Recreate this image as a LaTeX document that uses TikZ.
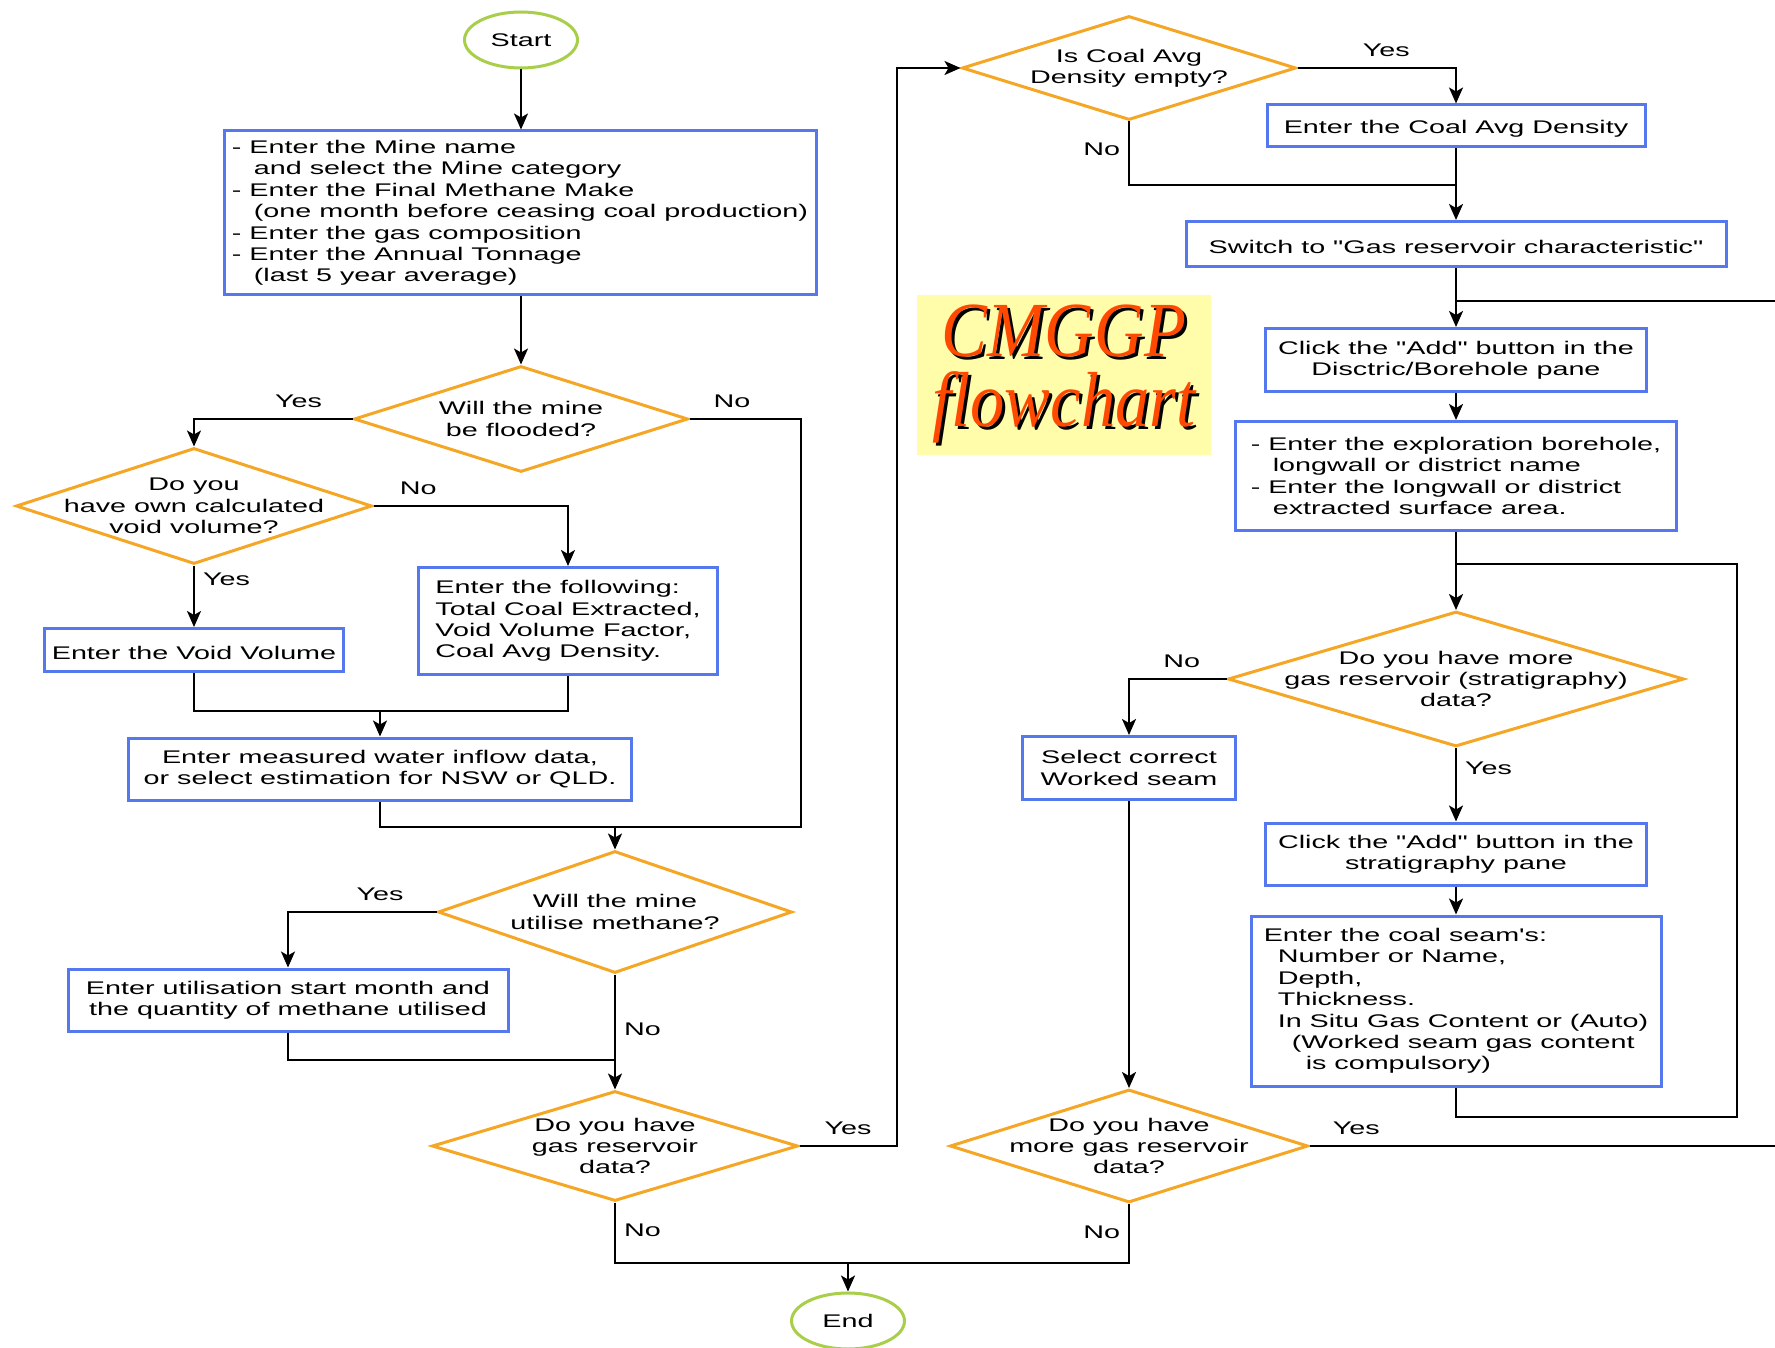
\documentclass[tikz,border=0pt]{standalone}
\usepackage{fontspec}
\setmainfont{Liberation Sans}[FakeStretch=1.57, Ligatures=TeXOff]
\newfontfamily\titlefont{Liberation Serif}[FakeStretch=0.88]
\usetikzlibrary{arrows.meta, positioning, shapes.geometric}
\usepackage{xcolor}

\definecolor{boxblue}{RGB}{85,120,238}
\definecolor{decorange}{RGB}{244,166,36}
\definecolor{termgreen}{RGB}{168,206,74}
\definecolor{titlefill}{RGB}{255,252,170}
\definecolor{titlered}{RGB}{255,72,0}

\newcommand{\shadowed}[1]{\leavevmode\rlap{\kern3pt\raisebox{-3pt}{\color{black}#1}}#1}

\begin{document}
\begin{tikzpicture}[
  x=1pt, y=-1pt,
  font=\fontsize{18.3}{21.4}\selectfont,
  box/.style={draw=boxblue, line width=3pt, fill=white, align=center, inner sep=0pt,
    execute at begin node={\rule{0pt}{19pt}}},
  note/.style={box, align=left},
  decision/.style={diamond, draw=decorange, line width=3pt, fill=white, align=center,
    aspect=3, inner xsep=0pt, inner ysep=-40pt,
    execute at begin node={\rule{0pt}{17pt}}},
  terminal/.style={ellipse, draw=termgreen, line width=3pt, fill=white,
    minimum width=113pt, minimum height=56pt, inner sep=0pt},
  titlebox/.style={fill=titlefill, text=titlered, align=center,
    minimum width=294pt, minimum height=160pt, inner sep=0pt,
    font=\titlefont\itshape\fontsize{78}{70}\selectfont},
  line/.style={line width=2pt},
  flow/.style={line, -{Stealth[length=16pt, width=14pt, inset=4pt]}},
  lbl/.style={inner sep=3pt},
]
  \useasboundingbox (0,0) rectangle (1775,1348);

  % left column
  \node[terminal] (start) at (521,40) {Start};
  \node[note, minimum width=592pt, minimum height=164pt] (mineinfo) at (520,213)
    {- Enter the Mine name\\
     \hspace*{22pt}and select the Mine category\\
     - Enter the Final Methane Make\\
     \hspace*{22pt}(one month before ceasing coal production)\\
     - Enter the gas composition\\
     - Enter the Annual Tonnage\\
     \hspace*{22pt}(last 5 year average)};
  \node[decision, minimum width=334pt, minimum height=106pt] (flood) at (521,419)
    {Will the mine\\be flooded?};
  \node[decision, minimum width=356pt, minimum height=116pt] (void) at (194,506)
    {Do you\\have own calculated\\void volume?};
  \node[box, minimum width=299pt, minimum height=43pt] (voidvol) at (194,650)
    {Enter the Void Volume};
  \node[note, minimum width=299pt, minimum height=107pt] (following) at (568,621)
    {Enter the following:\\Total Coal Extracted,\\Void Volume Factor,\\Coal Avg Density.};
  \node[box, minimum width=503pt, minimum height=62pt] (water) at (380,769)
    {Enter measured water inflow data,\\or select estimation for NSW or QLD.};
  \node[decision, minimum width=354pt, minimum height=122pt] (utilise) at (615,912)
    {Will the mine\\utilise methane?};
  \node[box, minimum width=440pt, minimum height=62pt] (utilisation) at (288,1000)
    {Enter utilisation start month and\\the quantity of methane utilised};
  \node[decision, minimum width=366pt, minimum height=110pt] (gas) at (615,1146)
    {Do you have\\gas reservoir\\data?};
  \node[terminal] (end) at (848,1321) {End};

  % right column
  \node[decision, minimum width=334pt, minimum height=104pt] (iscoal) at (1129,68)
    {Is Coal Avg\\Density empty?};
  \node[box, minimum width=378pt, minimum height=42pt] (coalavg) at (1456,126)
    {Enter the Coal Avg Density};
  \node[box, minimum width=540pt, minimum height=45pt] (switch) at (1456,244)
    {Switch to "Gas reservoir characteristic"};
  \node[box, minimum width=381pt, minimum height=63pt] (addbore) at (1456,360)
    {Click the "Add" button in the\\Disctric/Borehole pane};
  \node[note, minimum width=441pt, minimum height=109pt] (explore) at (1456,476)
    {- Enter the exploration borehole,\\
     \hspace*{22pt}longwall or district name\\
     - Enter the longwall or district\\
     \hspace*{22pt}extracted surface area.};
  \node[decision, minimum width=456pt, minimum height=135pt] (strat) at (1456,679)
    {Do you have more\\gas reservoir (stratigraphy)\\data?};
  \node[box, minimum width=213pt, minimum height=63pt] (select) at (1129,768)
    {Select correct\\Worked seam};
  \node[box, minimum width=381pt, minimum height=62pt] (addstrat) at (1456,854)
    {Click the "Add" button in the\\stratigraphy pane};
  \node[note, minimum width=410pt, minimum height=170pt] (seam) at (1456,1001)
    {Enter the coal seam's:\\
     \hspace*{14pt}Number or Name,\\
     \hspace*{14pt}Depth,\\
     \hspace*{14pt}Thickness.\\
     \hspace*{14pt}In Situ Gas Content or (Auto)\\
     \hspace*{28pt}(Worked seam gas content\\
     \hspace*{42pt}is compulsory)};
  \node[decision, minimum width=358pt, minimum height=113pt] (more) at (1129,1146)
    {Do you have\\more gas reservoir\\data?};

  \node[titlebox] (title) at (1064,375) {\shadowed{CMGGP}\\\shadowed{flowchart}};

  % junctions and bends
  \coordinate (jv) at (380,711);
  \coordinate (jw) at (615,827);
  \coordinate (floodturn) at (801,827);
  \coordinate (ju) at (615,1060);
  \coordinate (je) at (848,1263);
  \coordinate (jc) at (1456,185);
  \coordinate (jr) at (1456,301);
  \coordinate (js) at (1456,564);
  \coordinate (loopturn) at (1737,1117);
  \coordinate (rightturn) at (1778,1146);

  % left column connectors
  \draw[flow] (start) -- (start |- mineinfo.north);
  \draw[flow] (mineinfo.south -| flood) -- (flood);
  \draw[flow] (flood.west) -| node[lbl, above=7pt, pos=0.17] {Yes} (void.north);
  \draw[line] (flood.east) -| node[lbl, above=7pt, pos=0.19] {No} (floodturn) -- (jw);
  \draw[flow] (void.east) -| node[lbl, above=7pt, pos=0.115] {No} (following.north);
  \draw[flow] (void.south) -- node[lbl, right=5pt, pos=0.22] {Yes} (voidvol.north);
  \draw[line] (voidvol.south) |- (jv);
  \draw[flow] (following.south) |- (jv) -- (water.north);
  \draw[flow] (water.south) |- (jw) -- (utilise.north);
  \draw[flow] (utilise.west) -| node[lbl, above=7pt, pos=0.19] {Yes} (utilisation.north);
  \draw[flow] (utilise.south) -- node[lbl, right=5pt, pos=0.48] {No} (gas.north);
  \draw[line] (utilisation.south) |- (ju);
  \draw[flow] (gas.east) -- node[lbl, above=7pt] {Yes} ++(97,0) |- (iscoal.west);
  \draw[line] (gas.south) |- node[lbl, right=5pt, pos=0.23] {No} (je);
  \draw[flow] (more.south) |- node[lbl, left=5pt, pos=0.24] {No} (je) -- (end.north);

  % right column connectors
  \draw[flow] (iscoal.east) -| node[lbl, above=7pt, pos=0.28] {Yes} (coalavg.north);
  \draw[line] (iscoal.south) |- node[lbl, left=5pt, pos=0.22] {No} (jc);
  \draw[flow] (coalavg.south) -- (switch.north);
  \draw[flow] (switch) -- (addbore);
  \draw[line] (more.east) -- node[lbl, above=7pt, pos=0.1] {Yes} (rightturn) |- (jr);
  \draw[flow] (addbore) -- (explore);
  \draw[flow] (explore) -- (strat);
  \draw[line] (seam.south) |- (loopturn) |- (js);
  \draw[flow] (strat.west) -| node[lbl, above=7pt, pos=0.23] {No} (select.north);
  \draw[flow] (strat.south) -- node[lbl, right=5pt, pos=0.27] {Yes} (addstrat.north);
  \draw[flow] (addstrat) -- (seam);
  \draw[flow] (select) -- (more);
\end{tikzpicture}
\end{document}
